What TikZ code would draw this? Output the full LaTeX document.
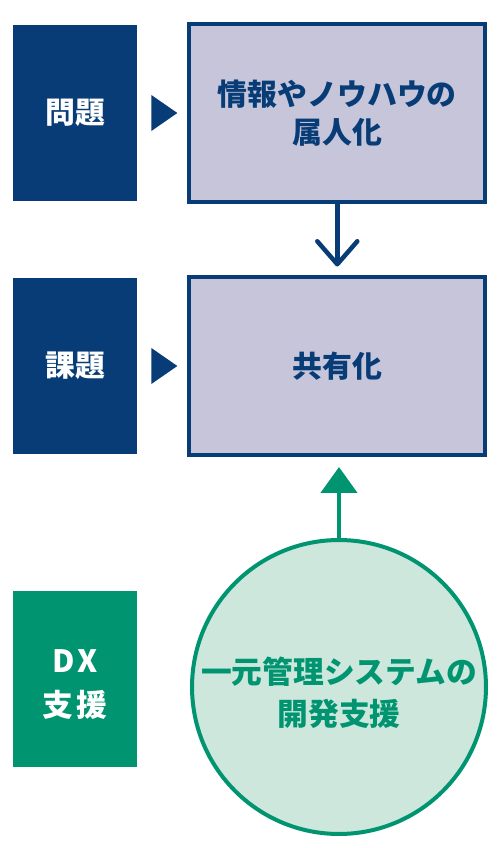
\documentclass[tikz,border=0pt]{standalone}
\usepackage{fontspec}
\usepackage{xcolor}
\usepackage{tikz}
\usetikzlibrary{arrows.meta, positioning, calc}

\newfontfamily\jpfont{Noto Sans CJK JP}
\newfontfamily\jpwide{Noto Sans CJK JP}[LetterSpace=12]
\definecolor{dxnavy}{HTML}{073C76}
\definecolor{dxlav}{HTML}{C6C5DA}
\definecolor{dxgreen}{HTML}{009470}
\definecolor{dxmint}{HTML}{CDE7DD}

\begin{document}
\begin{tikzpicture}[
  x=0.02cm, y=-0.02cm,
  node distance=1.0cm and 1.0cm,
  tag/.style={minimum width=2.48cm, minimum height=3.52cm, inner sep=0pt,
              align=center, text=white,
              font=\jpfont\bfseries\fontsize{17}{25}\selectfont},
  panel/.style={draw=dxnavy, line width=0.08cm, fill=dxlav,
                minimum width=5.92cm, minimum height=3.56cm, inner sep=0pt,
                align=center, text=dxnavy,
                font=\jpfont\bfseries\fontsize{17}{21.6}\selectfont},
  bubble/.style={circle, draw=dxgreen, line width=0.08cm, fill=dxmint,
                 minimum size=5.88cm, inner sep=0pt, align=center, text=dxgreen,
                 font=\jpfont\bfseries\fontsize{17.5}{24}\selectfont},
  down/.style={-{Straight Barb[length=0.46cm, width=0.8cm, round]},
               draw=dxnavy, line width=0.09cm, shorten >=0.17cm},
  up/.style={-{Triangle[length=0.52cm, width=0.72cm]},
             draw=dxgreen, fill=dxgreen, line width=0.09cm, shorten >=0.2cm},
]
\useasboundingbox (0,0) rectangle (500,848);

\node[tag, fill=dxnavy]           (mondai)   at (75,113) {問題};
\node[panel, right=of mondai]     (zokujin)  {情報やノウハウの\\属人化};
\node[tag, fill=dxnavy]           (kadai)    at (75,366) {課題};
\node[panel, right=of kadai]      (kyoyu)    {共有化};
\node[tag, fill=dxgreen, font=\jpwide\bfseries\fontsize{17.5}{25}\selectfont]
                                  (dx)       at (75,679)
  {\raisebox{-0.14cm}[\height][\depth]{\begin{tabular}{@{}c@{}}DX\\支援\end{tabular}}};
\node[bubble]                     (kaihatsu) at (339,687)
  {\raisebox{-0.18cm}[\height][\depth]{\begin{tabular}{@{}c@{}}一元管理システムの\\開発支援\end{tabular}}};

% pointers between the labels and the panels
\fill[dxnavy] ($(mondai.east)+(14,-18)$) -- ++(26,18) -- ++(-26,18) -- cycle;
\fill[dxnavy] ($(kadai.east)+(14,-18)$)  -- ++(26,18) -- ++(-26,18) -- cycle;

\draw[down] (zokujin.south) -- (kyoyu.north);
\draw[up]   (kaihatsu.north) -- (kaihatsu.north |- kyoyu.south);
\end{tikzpicture}
\end{document}
